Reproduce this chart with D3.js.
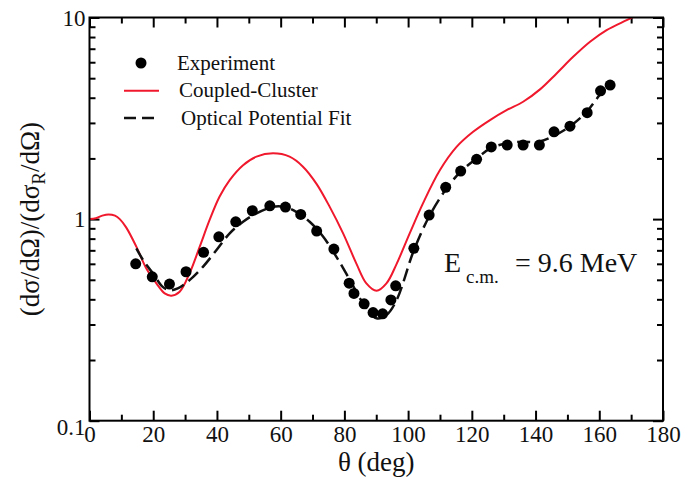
<!DOCTYPE html>
<html>
<head>
<meta charset="utf-8">
<script src="https://cdn.jsdelivr.net/npm/d3@7"></script>
<style>
  body { margin: 0; background: #fff; }
  svg { display: block; }
  svg text { font-family: 'Liberation Serif', 'DejaVu Serif', 'Noto Serif', serif; }
</style>
</head>
<body>
<svg id="chart" width="683" height="480"></svg>
<script>
// experiment points (theta in deg, ratio to Rutherford)
const expTheta = [14.5, 19.7, 25.1, 30.3, 35.8, 40.6, 45.9, 51.1, 56.6, 61.5, 66.3, 71.3, 76.7,
  81.5, 83.0, 86.2, 89.0, 92.0, 94.6, 96.1, 101.8, 106.6, 111.8, 116.5, 121.5, 126.1,
  131.1, 136.1, 141.2, 145.8, 150.8, 156.2, 160.4, 163.4];
const expValue = [0.600, 0.517, 0.476, 0.548, 0.684, 0.817, 0.970, 1.10, 1.164, 1.147, 1.055, 0.872, 0.710,
  0.481, 0.428, 0.380, 0.344, 0.339, 0.397, 0.467, 0.716, 1.047, 1.437, 1.73, 1.98, 2.28,
  2.33, 2.33, 2.33, 2.71, 2.89, 3.37, 4.33, 4.62];

// coupled-cluster curve
const ccTheta = [0, 2, 4, 6, 8, 9.5, 11.5, 14.7, 17.8, 21, 23.6, 25.7, 28.3, 31.4, 34.6, 37.7, 40.8,
  44, 48.2, 52.4, 57.6, 62.8, 67, 71.2, 75.4, 79.6, 83.8, 86.9, 90.1, 93.2, 96.4, 100.5,
  104.7, 110, 115.2, 120.4, 125.7, 130.9, 136.1, 141.4, 146.6, 151.8, 157.1, 162.3, 168.6, 172];
const ccValue = [1.0, 1.01, 1.04, 1.055, 1.04, 1.0, 0.91, 0.73, 0.57, 0.48, 0.428, 0.417, 0.436, 0.538, 0.73, 0.99, 1.29,
  1.56, 1.85, 2.04, 2.12, 2.04, 1.82, 1.50, 1.15, 0.85, 0.60, 0.48, 0.441, 0.48, 0.60, 0.85,
  1.2, 1.75, 2.28, 2.71, 3.10, 3.47, 3.82, 4.40, 5.28, 6.38, 7.58, 8.66, 9.7, 10.3];

// optical potential fit curve
const opTheta = [14.7, 17, 19.9, 23, 25.1, 27.7, 31.4, 35.6, 39.8, 44, 48.2, 52.4, 57.6, 61, 64.9,
  69.1, 73.3, 77.5, 81.7, 85.9, 90.1, 93.2, 96.4, 101.8, 106.6, 111.8, 116.5, 121.5, 126,
  131, 136, 141, 146, 151, 156, 160, 164];
const opValue = [0.716, 0.62, 0.538, 0.461, 0.444, 0.453, 0.498, 0.58, 0.70, 0.85, 0.97, 1.067, 1.15, 1.15, 1.087,
  0.97, 0.82, 0.65, 0.50, 0.382, 0.322, 0.334, 0.397, 0.70, 1.03, 1.40, 1.72, 2.0, 2.25,
  2.38, 2.42, 2.42, 2.6, 2.9, 3.4, 4.1, 4.8];

const xTicks = [0, 20, 40, 60, 80, 100, 120, 140, 160, 180];
const xMinor = [10, 30, 50, 70, 90, 110, 130, 150, 170];
const yTicks = [0.1, 1, 10];
const yTickLabels = ['0.1', '1', '10'];
const yMinor = [0.2, 0.3, 0.4, 0.5, 0.6, 0.7, 0.8, 0.9, 2, 3, 4, 5, 6, 7, 8, 9];

const pLeft = 89.5, pRight = 663, pTop = 17.5, pBottom = 420.7;

const svg = d3.select('#chart');

const x = d3.scaleLinear().domain([0, 180]).range([pLeft, pRight]);
const y = d3.scaleLog().domain([0.1, 10]).range([pBottom, pTop]);

svg.append('clipPath').attr('id', 'plot')
  .append('rect').attr('x', pLeft).attr('y', pTop)
  .attr('width', pRight - pLeft).attr('height', pBottom - pTop);

// ticks on all four sides, pointing inward
function ticks(axis, tx, ty) {
  const g = svg.append('g').attr('transform', `translate(${tx},${ty})`).call(axis);
  g.select('.domain').remove();
  g.attr('font-family', null);
  g.selectAll('line').attr('stroke', '#000').attr('stroke-width', 2);
  return g;
}

const xb = ticks(d3.axisBottom(x).tickValues(xTicks).tickSize(-10).tickPadding(5).tickFormat(d3.format('d')), 0, pBottom);
xb.selectAll('text').attr('font-size', 23).attr('fill', '#111');
ticks(d3.axisBottom(x).tickValues(xMinor).tickSize(-6).tickFormat(''), 0, pBottom);
ticks(d3.axisTop(x).tickValues(xTicks).tickSize(-10).tickFormat(''), 0, pTop);
ticks(d3.axisTop(x).tickValues(xMinor).tickSize(-6).tickFormat(''), 0, pTop);

const yl = ticks(d3.axisLeft(y).tickValues(yTicks).tickSize(-10).tickPadding(4)
  .tickFormat((d, i) => yTickLabels[i]), pLeft, 0);
yl.selectAll('text').attr('font-size', 23).attr('fill', '#111')
  .attr('dy', d => d === 0.1 ? '0.62em' : '0.34em');
ticks(d3.axisLeft(y).tickValues(yMinor).tickSize(-6).tickFormat(''), pLeft, 0);
ticks(d3.axisRight(y).tickValues(yTicks).tickSize(-10).tickFormat(''), pRight, 0);
ticks(d3.axisRight(y).tickValues(yMinor).tickSize(-6).tickFormat(''), pRight, 0);

// curves
const line = d3.line().curve(d3.curveCatmullRom.alpha(0.5))
  .x(d => x(d[0])).y(d => y(d[1]));

svg.append('path')
  .attr('d', line(d3.zip(ccTheta, ccValue)))
  .attr('clip-path', 'url(#plot)')
  .attr('fill', 'none').attr('stroke', '#f0182c').attr('stroke-width', 2);

svg.append('path')
  .attr('d', line(d3.zip(opTheta, opValue)))
  .attr('clip-path', 'url(#plot)')
  .attr('fill', 'none').attr('stroke', '#111').attr('stroke-width', 2.5)
  .attr('stroke-dasharray', '13,6');

svg.append('g').selectAll('circle')
  .data(d3.zip(expTheta, expValue))
  .join('circle')
  .attr('cx', d => x(d[0])).attr('cy', d => y(d[1]))
  .attr('r', 5.5).attr('fill', '#000');

// frame
svg.append('rect').attr('x', pLeft).attr('y', pTop)
  .attr('width', pRight - pLeft).attr('height', pBottom - pTop)
  .attr('fill', 'none').attr('stroke', '#000').attr('stroke-width', 2);

// legend
const lg = svg.append('g').attr('font-size', 21).attr('fill', '#111');
lg.append('circle').attr('cx', 141).attr('cy', 63).attr('r', 5.5).attr('fill', '#000');
lg.append('text').attr('x', 177).attr('y', 69.5).text('Experiment');
lg.append('line').attr('x1', 124).attr('x2', 159).attr('y1', 90.7).attr('y2', 90.7)
  .attr('stroke', '#f0182c').attr('stroke-width', 2);
lg.append('text').attr('x', 179).attr('y', 97).text('Coupled-Cluster');
lg.append('line').attr('x1', 124).attr('x2', 159).attr('y1', 118).attr('y2', 118)
  .attr('stroke', '#111').attr('stroke-width', 2.5).attr('stroke-dasharray', '12,6');
lg.append('text').attr('x', 181).attr('y', 124.5).text('Optical Potential Fit');

// energy annotation
const ann = svg.append('g').attr('fill', '#111');
ann.append('text').attr('x', 444).attr('y', 272).attr('font-size', 28).text('E');
ann.append('text').attr('x', 466).attr('y', 283).attr('font-size', 19).text('c.m.');
ann.append('text').attr('x', 515).attr('y', 272).attr('font-size', 28).text('= 9.6 MeV');

// axis titles
svg.append('text')
  .attr('x', (pLeft + pRight) / 2).attr('y', 471)
  .attr('text-anchor', 'middle')
  .attr('font-size', 27).attr('fill', '#111')
  .text('θ (deg)');

const yt = svg.append('text')
  .attr('transform', `translate(39,${(pTop + pBottom) / 2}) rotate(-90)`)
  .attr('text-anchor', 'middle')
  .attr('font-size', 27).attr('fill', '#111');
yt.append('tspan').text('(dσ/dΩ)/(dσ');
yt.append('tspan').attr('font-size', 19).attr('dy', 6).text('R');
yt.append('tspan').attr('dy', -6).text('/dΩ)');
</script>
</body>
</html>
